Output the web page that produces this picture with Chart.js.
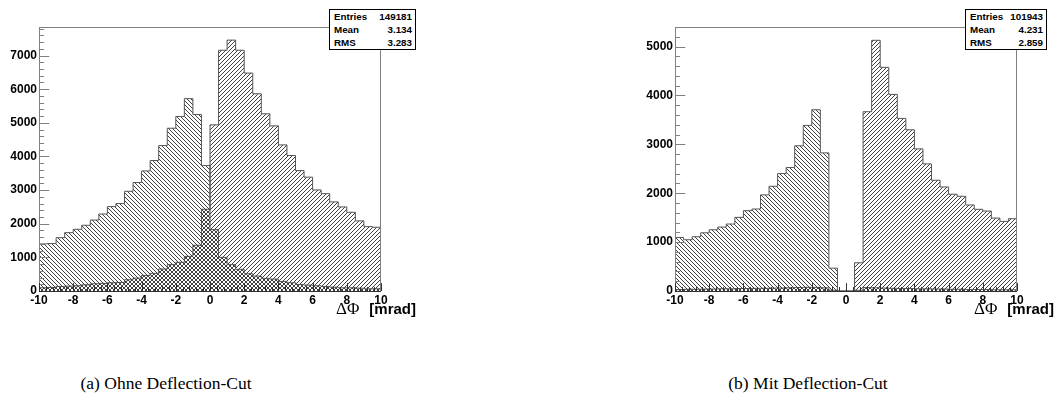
<!DOCTYPE html>
<html>
<head>
<meta charset="utf-8">
<script src="https://cdn.jsdelivr.net/npm/chart.js@4.4.1/dist/chart.umd.min.js"></script>
<style>
body { margin: 0; background: #fff; }
#page { position: relative; width: 1056px; height: 400px; overflow: hidden; background: #fff; }
canvas { position: absolute; top: 0; }
.stats {
    position: absolute;
    top: 9px;
    height: 41px;
    box-sizing: border-box;
    border: 1px solid #000;
    background: #fff;
    padding: 0 3px 0 4px;
    font-family: "Liberation Sans", Arial, sans-serif;
    font-weight: bold;
    font-size: 9.8px;
    color: #000;
}
.stats .row { display: flex; justify-content: space-between; height: 13px; line-height: 13px; }
.axtitle {
    position: absolute;
    top: 300px;
    width: 140px;
    text-align: right;
    white-space: nowrap;
    line-height: 18px;
    color: #000;
}
.axtitle .sym { font-family: "Liberation Serif", serif; font-size: 17px; margin-right: 10px; }
.axtitle .unit { font-family: "Liberation Sans", Arial, sans-serif; font-weight: bold; font-size: 15px; }
.caption {
    position: absolute;
    top: 373px;
    width: 300px;
    text-align: center;
    font-family: "Liberation Serif", "Times New Roman", serif;
    font-size: 17.5px;
    line-height: 20px;
    color: #000;
}
</style>
</head>
<body>
<div id="page">
    <canvas id="left" width="430" height="330" style="left:0px"></canvas>
    <canvas id="right" width="426" height="330" style="left:630px"></canvas>

    <div class="stats" style="left:329px; width:87px">
        <div class="row"><span>Entries</span><span>149181</span></div>
        <div class="row"><span>Mean</span><span>3.134</span></div>
        <div class="row"><span>RMS</span><span>3.283</span></div>
    </div>
    <div class="stats" style="left:965px; width:82px">
        <div class="row"><span>Entries</span><span>101943</span></div>
        <div class="row"><span>Mean</span><span>4.231</span></div>
        <div class="row"><span>RMS</span><span>2.859</span></div>
    </div>

    <div class="axtitle" style="left:276px"><span class="sym">ΔΦ</span><span class="unit">[mrad]</span></div>
    <div class="axtitle" style="left:914px"><span class="sym">ΔΦ</span><span class="unit">[mrad]</span></div>

    <div class="caption" style="left:16px">(a) Ohne Deflection-Cut</div>
    <div class="caption" style="left:658px">(b) Mit Deflection-Cut</div>
</div>

<script>
// bin edges of the delta-phi histograms, 40 bins of 0.5 mrad
const binEdges = [
    -10, -9.5, -9, -8.5, -8, -7.5, -7, -6.5, -6, -5.5,
    -5, -4.5, -4, -3.5, -3, -2.5, -2, -1.5, -1, -0.5,
    0, 0.5, 1, 1.5, 2, 2.5, 3, 3.5, 4, 4.5,
    5, 5.5, 6, 6.5, 7, 7.5, 8, 8.5, 9, 9.5, 10
];

const xTickLabels = [-10, -8, -6, -4, -2, 0, 2, 4, 6, 8, 10];
const yTickLabelsA = [0, 1000, 2000, 3000, 4000, 5000, 6000, 7000];
const yTickLabelsB = [0, 1000, 2000, 3000, 4000, 5000];

// (a) without deflection cut
const negNoCut = [
    1400, 1410, 1585, 1735, 1835, 1955, 2110, 2290, 2510, 2600,
    2965, 3225, 3570, 3880, 4325, 4840, 5190, 5720, 5250, 3730,
    1825, 1000, 783, 644, 515, 445, 375, 355, 285, 245,
    195, 175, 155, 135, 115, 95, 95, 85, 65, 65
];
const posNoCut = [
    96, 106, 136, 146, 156, 185, 215, 225, 245, 255,
    334, 384, 464, 524, 654, 783, 853, 1030, 1360, 2430,
    4940, 7160, 7460, 7160, 6480, 5865, 5270, 4910, 4345, 4030,
    3580, 3385, 3005, 2895, 2650, 2500, 2340, 2085, 1915, 1895
];

// (b) with deflection cut
const negCut = [
    1095, 1048, 1110, 1190, 1253, 1308, 1370, 1506, 1643, 1677,
    1966, 2142, 2402, 2525, 2970, 3387, 3707, 2825, 467, 0,
    0, 15, 70, 65, 60, 55, 50, 50, 45, 45,
    40, 40, 35, 35, 30, 30, 30, 25, 25, 25
];
const posCut = [
    30, 35, 35, 40, 40, 45, 45, 50, 50, 55,
    55, 60, 60, 65, 70, 75, 75, 65, 15, 0,
    0, 577, 3667, 5128, 4575, 4021, 3530, 3297, 2907, 2600,
    2265, 2128, 1979, 1938, 1760, 1671, 1636, 1492, 1424, 1479
];

const tickFont = { family: "'Liberation Sans', Arial, sans-serif", size: 12, weight: 700 };

function hatch(dir)
{
    const c = document.createElement("canvas");
    c.width = 4;
    c.height = 4;
    const g = c.getContext("2d");
    g.fillStyle = "#404040";
    for(let i = 0; i < 4; i++)
    {
        g.fillRect(dir === "/" ? 3 - i : i, i, 1, 1);
    }
    return g.createPattern(c, "repeat");
}

function histPoints(values)
{
    const pts = values.map((v, i) => ({ x: binEdges[i], y: v }));
    pts.push({ x: binEdges[binEdges.length - 1], y: values[values.length - 1] });
    return pts;
}

// ROOT style frame with inward ticks
const rootFrame = {
    id: "rootFrame",
    afterDatasetsDraw(chart)
    {
        const { ctx, chartArea: a, scales: { x, y } } = chart;
        const yMax = y.max;
        ctx.save();
        ctx.lineWidth = 1;

        ctx.strokeStyle = "#808080";
        ctx.strokeRect(a.left + 0.5, a.top + 0.5, a.right - a.left - 1, a.bottom - a.top);

        // y axis ticks
        const yLen = (a.right - a.left) * 0.03;
        ctx.beginPath();
        for(let v = 0; v <= yMax; v += 200)
        {
            const py = Math.round(y.getPixelForValue(v)) + 0.5;
            const len = v % 1000 === 0 ? yLen : yLen / 2;
            ctx.moveTo(a.left, py);
            ctx.lineTo(a.left + len, py);
        }
        ctx.stroke();

        // x axis line and ticks
        const xLen = (a.bottom - a.top) * 0.03;
        ctx.strokeStyle = "#303030";
        ctx.beginPath();
        ctx.moveTo(a.left, a.bottom + 0.5);
        ctx.lineTo(a.right, a.bottom + 0.5);
        for(let k = 0; k <= 50; k++)
        {
            const v = -10 + k * 0.4;
            const px = Math.round(x.getPixelForValue(v)) + 0.5;
            const len = k % 5 === 0 ? xLen : xLen / 2;
            ctx.moveTo(px, a.bottom);
            ctx.lineTo(px, a.bottom - len);
        }
        ctx.stroke();
        ctx.restore();
    }
};

function makeChart(id, negValues, posValues, yMax, yTicks, yAxisWidth, padRight, xAxisHeight)
{
    return new Chart(document.getElementById(id), {
        type: "line",
        data: {
            datasets: [
                {
                    data: histPoints(negValues),
                    stepped: true,
                    borderColor: "#555",
                    borderWidth: 1,
                    backgroundColor: hatch("\\"),
                    fill: "origin",
                    pointRadius: 0
                },
                {
                    data: histPoints(posValues),
                    stepped: true,
                    borderColor: "#555",
                    borderWidth: 1,
                    backgroundColor: hatch("/"),
                    fill: "origin",
                    pointRadius: 0
                }
            ]
        },
        options: {
            responsive: false,
            animation: false,
            events: [],
            layout: { padding: { left: 0, right: padRight, top: 27, bottom: 0 } },
            plugins: { legend: { display: false }, tooltip: { enabled: false } },
            scales: {
                x: {
                    type: "linear",
                    min: -10,
                    max: 10,
                    grid: { display: false, drawTicks: false },
                    border: { display: false },
                    afterBuildTicks: s => { s.ticks = xTickLabels.map(v => ({ value: v })); },
                    afterFit: s => { s.height = xAxisHeight; },
                    ticks: {
                        autoSkip: false,
                        maxRotation: 0,
                        padding: 2,
                        color: "#000",
                        font: tickFont,
                        callback: v => String(v)
                    }
                },
                y: {
                    type: "linear",
                    min: 0,
                    max: yMax,
                    grid: { display: false, drawTicks: false },
                    border: { display: false },
                    afterBuildTicks: s => { s.ticks = yTicks.map(v => ({ value: v })); },
                    afterFit: s => { s.width = yAxisWidth; },
                    ticks: {
                        padding: 2,
                        color: "#000",
                        font: tickFont,
                        callback: v => String(v)
                    }
                }
            }
        },
        plugins: [rootFrame]
    });
}

makeChart("left", negNoCut, posNoCut, 7850, yTickLabelsA, 39, 49, 39);
makeChart("right", negCut, posCut, 5400, yTickLabelsB, 45, 39, 39);
</script>
</body>
</html>
